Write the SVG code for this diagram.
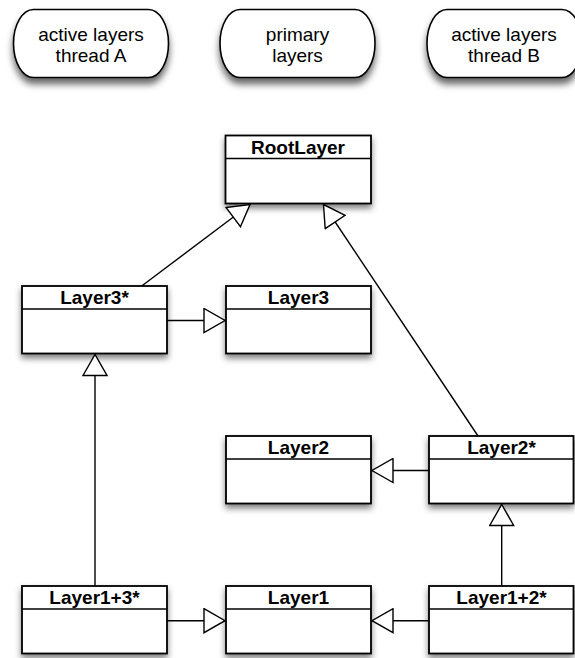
<svg xmlns="http://www.w3.org/2000/svg" width="575" height="658" viewBox="0 0 575 658">
<style>
  .pill { fill: #fff; stroke: #000; stroke-width: 1.6; filter: url(#pshadow); }
  .box { fill: #fff; stroke: #000; stroke-width: 1.8; filter: url(#bshadow); }
  .sep { stroke: #000; stroke-width: 1.5; }
  .ptext { font-family: "Liberation Sans", Arial, sans-serif; font-size: 19px; fill: #000; text-anchor: middle; }
  .btext { font-family: "Liberation Sans", Arial, sans-serif; font-size: 19px; font-weight: bold; fill: #000; text-anchor: middle; }
  .conn { fill: none; stroke: #000; stroke-width: 1.4; marker-end: url(#tri); }
</style>
<defs>
  <filter id="pshadow" x="-20%" y="-30%" width="140%" height="170%">
    <feDropShadow dx="0" dy="6" stdDeviation="3.5" flood-color="#000" flood-opacity="0.6"/>
  </filter>
  <filter id="bshadow" x="-20%" y="-30%" width="140%" height="170%">
    <feDropShadow dx="0" dy="4" stdDeviation="3" flood-color="#000" flood-opacity="0.5"/>
  </filter>
  <marker id="tri" viewBox="-1 -13 23 26" markerWidth="23" markerHeight="26" refX="21" refY="0" orient="auto" markerUnits="userSpaceOnUse">
    <path d="M0,-12 L21,0 L0,12 Z" fill="#fff" stroke="#000" stroke-width="1.4" stroke-linejoin="miter"/>
  </marker>
</defs>

<g id="lane-a">
  <rect class="pill" x="13.5" y="9.5" width="155" height="68" rx="20" ry="34"/>
  <text class="ptext" x="91" y="40.5">active layers</text>
  <text class="ptext" x="91" y="62">thread A</text>
</g>
<g id="lane-primary">
  <rect class="pill" x="220" y="9.5" width="155" height="68" rx="20" ry="34"/>
  <text class="ptext" x="297.5" y="40.5">primary</text>
  <text class="ptext" x="297.5" y="62">layers</text>
</g>
<g id="lane-b">
  <rect class="pill" x="427" y="9.5" width="155" height="68" rx="20" ry="34"/>
  <text class="ptext" x="504" y="40.5">active layers</text>
  <text class="ptext" x="504" y="62">thread B</text>
</g>

<g id="RootLayer">
  <rect class="box" x="225.5" y="135.5" width="145.5" height="68"/>
  <line class="sep" x1="225.5" y1="158.5" x2="371" y2="158.5"/>
  <text class="btext" x="298" y="153.5">RootLayer</text>
</g>
<g id="Layer3star">
  <rect class="box" x="22" y="286" width="145" height="67.5"/>
  <line class="sep" x1="22" y1="309" x2="167" y2="309"/>
  <text class="btext" x="94.5" y="304">Layer3*</text>
</g>
<g id="Layer3">
  <rect class="box" x="226" y="286" width="145" height="67.5"/>
  <line class="sep" x1="226" y1="309" x2="371" y2="309"/>
  <text class="btext" x="298.5" y="304">Layer3</text>
</g>
<g id="Layer2">
  <rect class="box" x="226" y="436" width="145" height="67.5"/>
  <line class="sep" x1="226" y1="459" x2="371" y2="459"/>
  <text class="btext" x="298.5" y="454">Layer2</text>
</g>
<g id="Layer2star">
  <rect class="box" x="429" y="436" width="144.5" height="67.5"/>
  <line class="sep" x1="429" y1="459" x2="573.5" y2="459"/>
  <text class="btext" x="501.5" y="454">Layer2*</text>
</g>
<g id="Layer1plus3star">
  <rect class="box" x="22" y="586" width="145" height="67.5"/>
  <line class="sep" x1="22" y1="609" x2="167" y2="609"/>
  <text class="btext" x="94.5" y="604">Layer1+3*</text>
</g>
<g id="Layer1">
  <rect class="box" x="226" y="586" width="145" height="67.5"/>
  <line class="sep" x1="226" y1="609" x2="371" y2="609"/>
  <text class="btext" x="298.5" y="604">Layer1</text>
</g>
<g id="Layer1plus2star">
  <rect class="box" x="429" y="586" width="144.5" height="67.5"/>
  <line class="sep" x1="429" y1="609" x2="573.5" y2="609"/>
  <text class="btext" x="501.5" y="604">Layer1+2*</text>
</g>

<g id="connectors">
  <path class="conn" d="M141.7,286 L250,204.5"/>
  <path class="conn" d="M478,436 L323.5,204.5"/>
  <path class="conn" d="M167,320.5 L225,320.5"/>
  <path class="conn" d="M95,586 L95,354.5"/>
  <path class="conn" d="M429,470.5 L372,470.5"/>
  <path class="conn" d="M501.7,586 L501.7,504.5"/>
  <path class="conn" d="M167,620.7 L225,620.7"/>
  <path class="conn" d="M429,620.7 L372,620.7"/>
</g>
</svg>
